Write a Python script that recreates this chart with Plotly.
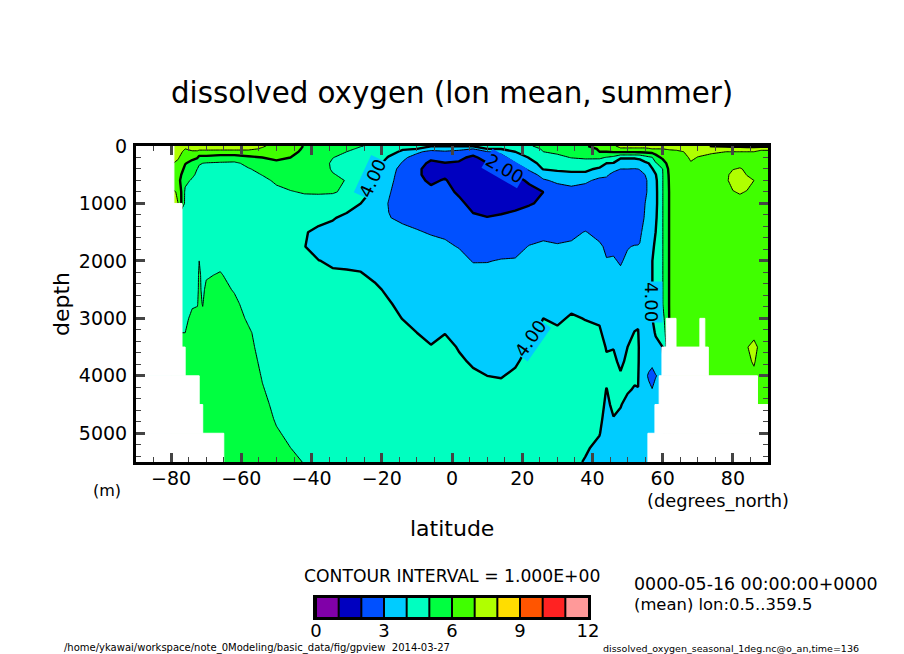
import numpy as np
import plotly.graph_objects as go

lats = [-90, -80, -78, -76, -74, -72.5, -72, -71, -70, -66, -62, -58, -54, -50, -46, -42, -38, -34, -30, -26,
        -22, -18, -14, -10, -6, -2, 2, 6, 10, 14, 18, 22, 26, 30, 34, 38, 42, 44, 46, 48,
        50, 52, 53, 53.5, 55, 56, 57, 58, 60, 62, 64, 66, 68, 70, 74, 78, 80, 82, 84, 86, 88, 90]
depths = [0, 50, 100, 200, 300, 400, 500, 600, 800, 1000,
          1250, 1500, 1750, 2000, 2250, 2500, 2750, 3000, 3250, 3500,
          3750, 4000, 4250, 4500, 4750, 5000, 5250, 5500]

# one profile per latitude
o2_profiles = [
    [7.5, 7.4, 7.3, 7.2, 7.1, 6.9, 6.7, 6.6, 7.2, 7.4, 5.0, 5.0, 5.0, 5.0, 5.0, 5.0, 5.0, 5.0, 5.0, 5.0, 5.0, 5.0, 5.0, 5.0, 5.0, 5.0, 5.0, 5.0],
    [7.5, 7.4, 7.3, 7.2, 7.1, 6.9, 6.7, 6.6, 7.2, 7.4, 5.0, 5.0, 5.0, 5.0, 5.0, 5.0, 5.0, 5.0, 5.0, 5.0, 5.0, 5.0, 5.0, 5.0, 5.0, 5.0, 5.0, 5.0],
    [7.5, 7.4, 7.3, 7.1, 6.8, 6.6, 6.4, 6.3, 6.9, 7.0, 4.8, 4.8, 4.8, 4.8, 4.8, 4.8, 4.8, 4.9, 5.0, 5.2, 5.3, 5.3, 5.3, 5.3, 5.3, 5.3, 5.3, 5.3],
    [7.2, 7.0, 6.8, 6.4, 6.05, 5.8, 5.5, 5.2, 4.85, 4.8, 4.7, 4.7, 4.7, 4.7, 4.7, 4.7, 4.8, 4.9, 5.0, 5.2, 5.3, 5.3, 5.3, 5.3, 5.3, 5.3, 5.3, 5.3],
    [7.3, 7.1, 6.95, 6.2, 5.75, 5.45, 5.15, 4.9, 4.75, 4.7, 4.6, 4.6, 4.6, 4.65, 4.7, 4.8, 4.95, 5.1, 5.2, 5.3, 5.4, 5.4, 5.4, 5.4, 5.4, 5.4, 5.4, 5.4],
    [7.3, 7.1, 6.95, 6.05, 5.5, 4.98, 4.85, 4.8, 4.7, 4.65, 4.6, 4.6, 4.65, 4.75, 4.85, 4.9, 4.98, 5.1, 5.2, 5.3, 5.4, 5.4, 5.4, 5.4, 5.4, 5.4, 5.4, 5.4],
    [7.3, 7.15, 6.8, 5.7, 5.05, 4.9, 4.8, 4.7, 4.65, 4.6, 4.6, 4.7, 4.85, 5.0, 5.1, 5.1, 5.1, 5.2, 5.3, 5.4, 5.5, 5.5, 5.5, 5.5, 5.5, 5.5, 5.5, 5.5],
    [7.3, 7.15, 6.8, 5.7, 5.0, 4.85, 4.75, 4.7, 4.65, 4.6, 4.6, 4.6, 4.7, 4.8, 4.85, 4.9, 4.98, 5.1, 5.2, 5.3, 5.4, 5.4, 5.4, 5.4, 5.4, 5.4, 5.4, 5.4],
    [7.3, 7.15, 6.8, 5.7, 4.95, 4.85, 4.75, 4.7, 4.6, 4.6, 4.6, 4.65, 4.7, 4.8, 4.95, 5.1, 5.2, 5.3, 5.4, 5.4, 5.4, 5.4, 5.4, 5.4, 5.4, 5.4, 5.4, 5.4],
    [7.3, 7.2, 6.7, 5.5, 4.9, 4.8, 4.7, 4.65, 4.6, 4.6, 4.6, 4.6, 4.7, 4.85, 5.05, 5.2, 5.3, 5.4, 5.5, 5.5, 5.5, 5.5, 5.5, 5.5, 5.5, 5.5, 5.5, 5.5],
    [7.3, 7.2, 6.7, 5.5, 4.85, 4.8, 4.7, 4.65, 4.6, 4.55, 4.55, 4.55, 4.6, 4.7, 4.8, 4.95, 5.15, 5.3, 5.4, 5.4, 5.4, 5.4, 5.4, 5.4, 5.4, 5.4, 5.4, 5.4],
    [7.3, 7.2, 6.7, 5.8, 5.2, 4.95, 4.8, 4.7, 4.6, 4.55, 4.5, 4.5, 4.5, 4.55, 4.6, 4.65, 4.75, 4.9, 5.1, 5.2, 5.3, 5.4, 5.4, 5.4, 5.4, 5.4, 5.4, 5.4],
    [7.1, 6.9, 6.6, 6.0, 5.5, 5.2, 5.02, 4.85, 4.65, 4.5, 4.45, 4.4, 4.4, 4.4, 4.45, 4.5, 4.55, 4.6, 4.7, 4.75, 4.85, 4.95, 5.05, 5.15, 5.2, 5.3, 5.3, 5.3],
    [6.7, 6.5, 6.3, 6.1, 5.9, 5.6, 5.3, 5.1, 4.85, 4.6, 4.4, 4.3, 4.3, 4.3, 4.35, 4.4, 4.45, 4.5, 4.55, 4.6, 4.65, 4.7, 4.75, 4.85, 4.95, 5.05, 5.15, 5.2],
    [6.4, 6.3, 6.2, 6.0, 5.8, 5.6, 5.4, 5.2, 4.97, 4.7, 4.4, 4.2, 4.2, 4.2, 4.25, 4.3, 4.35, 4.4, 4.45, 4.5, 4.55, 4.6, 4.65, 4.7, 4.8, 4.9, 5.0, 5.1],
    [5.95, 5.9, 5.85, 5.7, 5.6, 5.5, 5.35, 5.2, 5.04, 4.8, 4.4, 4.05, 4.02, 4.15, 4.2, 4.25, 4.3, 4.3, 4.35, 4.4, 4.4, 4.45, 4.5, 4.55, 4.6, 4.7, 4.8, 4.98],
    [5.7, 5.6, 5.5, 5.4, 5.35, 5.25, 5.2, 5.15, 5.05, 4.8, 4.2, 3.85, 3.7, 4.02, 4.15, 4.2, 4.25, 4.25, 4.3, 4.35, 4.4, 4.4, 4.45, 4.5, 4.5, 4.55, 4.6, 4.65],
    [5.6, 5.4, 5.25, 5.02, 4.9, 4.95, 5.03, 5.1, 5.05, 4.7, 4.05, 3.8, 3.75, 3.9, 4.1, 4.2, 4.25, 4.25, 4.3, 4.3, 4.35, 4.4, 4.4, 4.45, 4.5, 4.5, 4.55, 4.6],
    [5.4, 5.2, 5.0, 4.8, 4.8, 4.85, 4.9, 4.98, 4.9, 4.3, 3.85, 3.65, 3.65, 3.85, 4.1, 4.2, 4.2, 4.25, 4.25, 4.3, 4.3, 4.35, 4.35, 4.4, 4.4, 4.45, 4.5, 4.5],
    [5.05, 4.85, 4.7, 4.6, 4.6, 4.6, 4.6, 4.55, 4.4, 4.0, 3.75, 3.6, 3.6, 3.85, 4.05, 4.15, 4.2, 4.2, 4.25, 4.25, 4.3, 4.3, 4.35, 4.35, 4.4, 4.4, 4.45, 4.45],
    [4.8, 4.7, 4.6, 4.4, 4.3, 4.15, 4.0, 3.9, 3.8, 3.7, 3.6, 3.55, 3.6, 3.75, 3.9, 4.1, 4.15, 4.2, 4.2, 4.2, 4.25, 4.25, 4.3, 4.3, 4.35, 4.35, 4.4, 4.4],
    [4.5, 4.3, 4.2, 3.95, 3.7, 3.5, 3.4, 3.3, 3.1, 2.95, 3.03, 3.3, 3.5, 3.6, 3.7, 3.9, 4.05, 4.2, 4.2, 4.2, 4.25, 4.25, 4.3, 4.3, 4.3, 4.35, 4.35, 4.4],
    [4.2, 4.05, 3.9, 3.2, 2.9, 2.6, 2.5, 2.45, 2.4, 2.5, 2.85, 3.2, 3.4, 3.5, 3.6, 3.7, 3.85, 3.98, 4.2, 4.25, 4.25, 4.25, 4.3, 4.3, 4.3, 4.3, 4.35, 4.35],
    [4.2, 4.0, 3.2, 2.6, 2.2, 2.1, 2.1, 2.15, 2.3, 2.5, 2.8, 3.05, 3.3, 3.45, 3.55, 3.65, 3.75, 3.85, 4.0, 4.15, 4.2, 4.2, 4.25, 4.25, 4.3, 4.3, 4.3, 4.35],
    [4.1, 3.4, 2.7, 2.1, 1.9, 1.8, 1.8, 1.9, 2.15, 2.4, 2.7, 2.95, 3.2, 3.4, 3.5, 3.6, 3.7, 3.8, 3.9, 4.02, 4.2, 4.2, 4.25, 4.25, 4.25, 4.3, 4.3, 4.3],
    [4.1, 3.4, 2.9, 2.3, 1.97, 1.8, 1.9, 2.05, 2.2, 2.35, 2.65, 2.9, 3.1, 3.3, 3.45, 3.55, 3.65, 3.8, 3.98, 4.2, 4.25, 4.25, 4.25, 4.25, 4.3, 4.3, 4.3, 4.3],
    [4.1, 3.3, 2.7, 2.2, 1.9, 1.7, 1.6, 1.7, 1.9, 2.15, 2.45, 2.75, 2.97, 3.2, 3.35, 3.5, 3.6, 3.7, 3.8, 3.95, 4.1, 4.2, 4.2, 4.25, 4.25, 4.25, 4.3, 4.3],
    [4.1, 3.0, 2.4, 1.8, 1.6, 1.5, 1.4, 1.4, 1.5, 1.8, 2.1, 2.4, 2.7, 2.97, 3.2, 3.4, 3.5, 3.6, 3.7, 3.8, 3.92, 4.1, 4.15, 4.2, 4.2, 4.25, 4.25, 4.25],
    [4.3, 4.0, 2.95, 2.4, 1.97, 1.7, 1.5, 1.4, 1.4, 1.7, 2.02, 2.4, 2.7, 2.98, 3.15, 3.35, 3.45, 3.55, 3.65, 3.75, 3.85, 4.0, 4.15, 4.2, 4.2, 4.2, 4.25, 4.25],
    [4.4, 4.05, 3.2, 2.7, 2.25, 1.95, 1.75, 1.6, 1.5, 1.7, 2.1, 2.5, 2.8, 3.03, 3.2, 3.35, 3.45, 3.55, 3.6, 3.7, 3.8, 3.97, 4.15, 4.2, 4.2, 4.2, 4.25, 4.25],
    [4.6, 4.3, 4.0, 3.4, 2.95, 2.4, 2.0, 1.8, 1.6, 1.8, 2.2, 2.55, 2.8, 3.05, 3.2, 3.3, 3.4, 3.5, 3.6, 3.75, 3.92, 4.1, 4.15, 4.2, 4.2, 4.2, 4.2, 4.25],
    [4.9, 4.6, 4.4, 4.05, 3.7, 3.15, 2.6, 2.1, 1.8, 1.95, 2.3, 2.7, 3.03, 3.2, 3.3, 3.4, 3.5, 3.6, 3.8, 4.05, 4.2, 4.2, 4.2, 4.2, 4.2, 4.2, 4.2, 4.2],
    [5.3, 5.1, 5.0, 4.6, 4.25, 4.05, 3.3, 2.9, 2.0, 2.1, 2.5, 2.85, 3.1, 3.2, 3.3, 3.4, 3.7, 4.0, 4.2, 4.2, 4.2, 4.2, 4.2, 4.2, 4.2, 4.2, 4.2, 4.2],
    [5.5, 5.3, 5.15, 4.8, 4.4, 4.15, 3.7, 3.15, 2.6, 2.4, 2.5, 2.8, 3.05, 3.2, 3.3, 3.4, 3.55, 3.85, 4.15, 4.2, 4.2, 4.2, 4.2, 4.2, 4.2, 4.2, 4.2, 4.2],
    [5.6, 5.45, 5.3, 5.03, 4.6, 4.2, 3.8, 3.3, 2.7, 2.3, 2.45, 2.85, 3.1, 3.2, 3.3, 3.5, 3.8, 4.1, 4.2, 4.2, 4.2, 4.2, 4.2, 4.2, 4.2, 4.15, 4.1, 4.1],
    [5.95, 5.6, 5.4, 5.1, 4.7, 4.2, 3.8, 3.15, 2.6, 2.3, 2.6, 3.03, 3.2, 3.3, 3.4, 3.5, 3.7, 3.97, 4.2, 4.2, 4.2, 4.2, 4.2, 4.2, 4.15, 4.1, 4.05, 3.97],
    [6.2, 6.1, 6.0, 5.15, 4.5, 3.85, 3.25, 2.8, 2.4, 2.2, 2.4, 2.8, 3.1, 3.2, 3.3, 3.4, 3.6, 3.9, 4.1, 4.3, 4.3, 4.3, 4.25, 4.2, 4.1, 4.02, 3.9, 3.8],
    [6.3, 6.15, 6.0, 4.95, 4.0, 3.6, 3.1, 2.85, 2.4, 2.25, 2.45, 2.7, 2.9, 3.03, 3.15, 3.3, 3.4, 3.55, 3.75, 3.95, 4.1, 4.1, 3.98, 3.9, 3.85, 3.8, 3.75, 3.7],
    [6.9, 6.3, 6.1, 4.75, 3.95, 3.2, 2.8, 2.6, 2.4, 2.3, 2.45, 2.7, 2.9, 3.05, 3.2, 3.35, 3.5, 3.7, 3.85, 3.98, 4.1, 4.2, 4.2, 4.1, 3.98, 3.85, 3.8, 3.75],
    [7.2, 6.9, 6.15, 4.1, 3.5, 3.0, 2.7, 2.5, 2.4, 2.35, 2.4, 2.6, 2.8, 2.95, 3.1, 3.25, 3.4, 3.55, 3.65, 3.75, 3.9, 4.05, 4.2, 4.03, 3.9, 3.85, 3.8, 3.75],
    [7.2, 6.9, 6.15, 4.1, 3.5, 3.0, 2.7, 2.5, 2.4, 2.4, 2.5, 2.7, 2.97, 3.1, 3.2, 3.3, 3.4, 3.5, 3.75, 4.0, 4.1, 4.2, 4.05, 3.85, 3.8, 3.75, 3.7, 3.65],
    [7.2, 6.9, 6.15, 4.1, 3.5, 2.97, 2.7, 2.5, 2.4, 2.4, 2.45, 2.7, 3.03, 3.15, 3.25, 3.35, 3.5, 3.75, 4.03, 4.15, 4.2, 4.1, 3.95, 3.85, 3.8, 3.7, 3.65, 3.6],
    [7.2, 6.9, 6.15, 4.15, 3.6, 3.0, 2.7, 2.5, 2.4, 2.4, 2.5, 2.75, 3.03, 3.15, 3.25, 3.35, 3.5, 3.85, 4.05, 4.2, 4.2, 4.1, 3.97, 3.8, 3.7, 3.65, 3.6, 3.6],
    [7.2, 6.9, 6.15, 4.2, 3.6, 3.05, 2.75, 2.55, 2.5, 2.5, 2.6, 2.85, 3.05, 3.2, 3.3, 3.4, 3.6, 3.7, 3.7, 3.7, 3.6, 3.5, 3.5, 3.55, 3.55, 3.55, 3.55, 3.55],
    [7.2, 6.9, 6.2, 4.6, 3.8, 3.3, 3.0, 2.9, 2.9, 3.0, 3.1, 3.3, 3.4, 3.5, 3.55, 3.55, 3.55, 3.55, 3.5, 3.45, 3.35, 3.2, 3.3, 3.4, 3.4, 3.4, 3.4, 3.4],
    [7.2, 6.95, 6.25, 4.8, 4.0, 3.5, 3.25, 3.1, 3.1, 3.15, 3.25, 3.4, 3.5, 3.6, 3.6, 3.6, 3.6, 3.6, 3.5, 3.4, 3.3, 2.9, 3.2, 3.3, 3.35, 3.35, 3.35, 3.35],
    [7.2, 7.0, 6.3, 4.95, 4.3, 3.95, 3.7, 3.55, 3.5, 3.5, 3.55, 3.6, 3.8, 3.97, 3.97, 3.97, 3.97, 3.97, 3.7, 3.5, 3.3, 2.6, 3.05, 3.3, 3.4, 3.4, 3.4, 3.4],
    [7.2, 7.0, 6.4, 5.6, 4.9, 4.3, 3.95, 3.8, 3.75, 3.75, 3.85, 4.0, 4.2, 4.4, 4.4, 4.4, 4.4, 4.4, 4.1, 3.7, 3.5, 2.95, 3.3, 3.4, 3.4, 3.4, 3.4, 3.4],
    [7.2, 7.0, 6.7, 6.2, 5.5, 5.0, 4.97, 4.97, 4.97, 4.97, 4.97, 4.97, 4.97, 4.97, 4.97, 4.97, 4.97, 4.7, 4.4, 4.0, 3.6, 3.3, 3.4, 3.4, 3.4, 3.4, 3.4, 3.4],
    [7.2, 7.05, 6.9, 6.7, 6.5, 6.3, 6.2, 6.15, 6.1, 6.1, 6.1, 6.1, 6.1, 6.1, 6.1, 6.1, 6.1, 6.1, 6.1, 6.1, 6.1, 6.1, 6.1, 6.1, 6.1, 6.1, 6.1, 6.1],
    [7.3, 7.1, 6.9, 6.7, 6.6, 6.55, 6.5, 6.5, 6.5, 6.5, 6.5, 6.5, 6.5, 6.5, 6.5, 6.5, 6.5, 6.5, 6.5, 6.5, 6.5, 6.5, 6.5, 6.5, 6.5, 6.5, 6.5, 6.5],
    [7.6, 7.3, 7.0, 6.8, 6.7, 6.65, 6.6, 6.55, 6.5, 6.5, 6.5, 6.5, 6.5, 6.5, 6.5, 6.5, 6.5, 6.5, 6.5, 6.5, 6.5, 6.5, 6.5, 6.5, 6.5, 6.5, 6.5, 6.5],
    [7.6, 7.4, 7.3, 7.1, 6.95, 6.8, 6.7, 6.6, 6.5, 6.5, 6.5, 6.5, 6.5, 6.5, 6.5, 6.5, 6.5, 6.5, 6.5, 6.5, 6.5, 6.5, 6.5, 6.5, 6.5, 6.5, 6.5, 6.5],
    [7.7, 7.3, 7.15, 6.98, 6.8, 6.7, 6.65, 6.6, 6.5, 6.5, 6.5, 6.5, 6.5, 6.5, 6.5, 6.5, 6.5, 6.5, 6.5, 6.5, 6.5, 6.5, 6.5, 6.5, 6.5, 6.5, 6.5, 6.5],
    [8.05, 7.4, 7.05, 6.9, 6.8, 6.75, 6.7, 6.65, 6.6, 6.55, 6.5, 6.5, 6.5, 6.5, 6.5, 6.5, 6.5, 6.5, 6.5, 6.5, 6.5, 6.5, 6.5, 6.5, 6.5, 6.5, 6.5, 6.5],
    [8.2, 7.3, 7.0, 6.9, 6.85, 6.85, 6.85, 6.9, 6.8, 6.7, 6.6, 6.5, 6.5, 6.5, 6.5, 6.5, 6.5, 6.5, 6.5, 6.5, 6.5, 6.5, 6.5, 6.5, 6.5, 6.5, 6.5, 6.5],
    [8.3, 7.3, 7.0, 6.9, 6.8, 6.97, 7.2, 7.2, 6.97, 6.8, 6.6, 6.5, 6.5, 6.5, 6.5, 6.5, 6.5, 6.5, 6.5, 6.5, 6.5, 6.5, 6.5, 6.5, 6.5, 6.5, 6.5, 6.5],
    [8.3, 7.2, 7.0, 6.9, 6.8, 7.05, 7.3, 7.3, 7.05, 6.8, 6.6, 6.5, 6.5, 6.5, 6.5, 6.5, 6.5, 6.5, 6.5, 6.5, 6.5, 6.5, 6.5, 6.5, 6.5, 6.5, 6.5, 6.5],
    [8.4, 7.2, 7.0, 6.9, 6.8, 6.9, 6.97, 7.2, 6.97, 6.8, 6.6, 6.5, 6.5, 6.5, 6.5, 6.5, 6.5, 6.5, 6.6, 6.95, 6.8, 6.6, 6.5, 6.5, 6.5, 6.5, 6.5, 6.5],
    [8.4, 7.2, 7.0, 6.9, 6.8, 6.85, 6.9, 7.0, 6.85, 6.7, 6.6, 6.5, 6.5, 6.5, 6.5, 6.5, 6.5, 6.5, 6.7, 7.3, 7.1, 6.8, 6.6, 6.5, 6.5, 6.5, 6.5, 6.5],
    [8.4, 7.1, 6.9, 6.8, 6.7, 6.7, 6.7, 6.7, 6.65, 6.6, 6.5, 6.5, 6.5, 6.5, 6.5, 6.5, 6.5, 6.5, 6.5, 6.7, 6.5, 6.5, 6.5, 6.5, 6.5, 6.5, 6.5, 6.5],
    [8.4, 7.1, 6.9, 6.8, 6.7, 6.7, 6.7, 6.7, 6.65, 6.6, 6.5, 6.5, 6.5, 6.5, 6.5, 6.5, 6.5, 6.5, 6.5, 6.7, 6.5, 6.5, 6.5, 6.5, 6.5, 6.5, 6.5, 6.5],
]

# sea floor / land, drawn white over the field
land_west = [-90, -90, -90, -90, -90, -90, 61, 70.6, 59.8, 59, 57.8, 55.8]
land_east = [-79.2, -76.9, -76, -72, -71, -65, 63.8, 72, 73, 87, 90, 90]
land_top = [0, 1000, 3500, 4000, 4500, 5000, 3000, 3000, 3500, 4000, 4500, 5000]
land_bottom = [1000, 3500, 4000, 4500, 5000, 5500, 3500, 3500, 4000, 4500, 5000, 5500]

band_colors = ["#8000a8", "#0000c0", "#0050ff", "#00ccff", "#00ffc0", "#00ff40",
               "#40ff00", "#b0ff00", "#ffdd00", "#ff5500", "#ff2222", "#ff9999"]
key_ticks = [0, 3, 6, 9, 12]

FONT = "DejaVu Sans"
W, H = 904, 654


def px(x):
    return x / W


def py(y):
    return 1 - y / H


colorscale = []
for i, c in enumerate(band_colors):
    colorscale.append([i / 12, c])
    colorscale.append([(i + 1) / 12, c])

o2 = np.array(o2_profiles).T

fig = go.Figure()

fig.add_trace(go.Contour(
    x=lats, y=depths, z=o2, zmin=0, zmax=12, colorscale=colorscale, showscale=False,
    contours=dict(start=0, end=12, size=1, coloring="fill"),
    line=dict(color="black", width=1, smoothing=0), hoverinfo="skip",
))
# every second level is drawn heavier
fig.add_trace(go.Contour(
    x=lats, y=depths, z=o2, showscale=False,
    contours=dict(start=2, end=8, size=2, coloring="none"),
    line=dict(color="black", width=2.4, smoothing=0), hoverinfo="skip",
))

fig.add_trace(go.Bar(
    x=[(a + b) / 2 for a, b in zip(land_west, land_east)],
    width=[b - a for a, b in zip(land_west, land_east)],
    base=land_top,
    y=[b - t for t, b in zip(land_top, land_bottom)],
    marker=dict(color="white", line=dict(width=1, color="white")),
    hoverinfo="skip", showlegend=False,
))

# colour key
fig.add_trace(go.Contour(
    x=[0, 12], y=[0, 1], z=[[0, 12], [0, 12]], zmin=0, zmax=12,
    colorscale=colorscale, showscale=False,
    contours=dict(start=0, end=12, size=1, coloring="fill"),
    line=dict(color="black", width=2, smoothing=0), hoverinfo="skip",
    xaxis="x2", yaxis="y2",
))

fig.update_layout(
    width=W, height=H, autosize=False, showlegend=False,
    paper_bgcolor="white", plot_bgcolor="white",
    margin=dict(l=0, r=0, t=0, b=0), barmode="overlay",
    font=dict(family=FONT, color="black", size=19),
    xaxis=dict(
        domain=[px(136), px(768)], range=[-90, 90], tickvals=[-80, -60, -40, -20, 0, 20, 40, 60, 80],
        ticks="inside", ticklen=9, tickwidth=3, mirror="allticks", showline=True, linewidth=3,
        linecolor="black", showgrid=False, zeroline=False, tickfont=dict(size=19), automargin=False,
        ticklabelstandoff=-3,
        minor=dict(ticks="inside", dtick=5, ticklen=5, tickwidth=1, showgrid=False),
    ),
    yaxis=dict(
        domain=[py(462), py(146)], range=[5500, 0], tickvals=[0, 1000, 2000, 3000, 4000, 5000],
        ticks="inside", ticklen=9, tickwidth=3, mirror="allticks", showline=True, linewidth=3,
        linecolor="black", showgrid=False, zeroline=False, tickfont=dict(size=19), automargin=False,
        ticklabelstandoff=2,
        minor=dict(ticks="inside", dtick=200, ticklen=5, tickwidth=1, showgrid=False),
    ),
    xaxis2=dict(
        domain=[px(316), px(588)], range=[0, 12], anchor="y2", tickvals=key_ticks, ticks="",
        showline=True, linewidth=3, linecolor="black", mirror=True, showgrid=False,
        zeroline=False, tickfont=dict(size=18), automargin=False, ticklabelstandoff=-5,
    ),
    yaxis2=dict(
        domain=[py(617), py(598)], range=[0, 1], anchor="x2", showticklabels=False, ticks="",
        showline=True, linewidth=3, linecolor="black", mirror=True, showgrid=False, zeroline=False,
        automargin=False,
    ),
)

texts = [
    ("dissolved oxygen (lon mean, summer)", 452, 93, 29.3, "center", 0),
    ("latitude", 452, 528, 22, "center", 0),
    ("depth", 62, 304, 22, "center", -90),
    ("(m)", 107, 490, 16, "center", 0),
    ("(degrees_north)", 718, 501, 17.8, "center", 0),
    ("CONTOUR INTERVAL = 1.000E+00", 452, 576, 17.2, "center", 0),
    ("0000-05-16 00:00:00+0000", 632, 584, 17.4, "left", 0),
    ("(mean) lon:0.5..359.5", 632, 604, 16.4, "left", 0),
    ("/home/ykawai/workspace/note_0Modeling/basic_data/fig/gpview  2014-03-27", 62, 648, 10, "left", 0),
    ("dissolved_oxygen_seasonal_1deg.nc@o_an,time=136", 601, 648, 9.5, "left", 0),
]
for text, x, y, size, anchor, angle in texts:
    fig.add_annotation(text=text.replace("  ", "&nbsp;&nbsp;"), x=px(x), y=py(y), xref="paper", yref="paper",
                       xanchor=anchor, yanchor="middle", showarrow=False,
                       textangle=angle, font=dict(size=size))

# contour labels, placed by hand along the lines as in the source picture
contour_labels = [
    ("4.00", 372, 178, -65, "#00ccff"),
    ("2.00", 505, 168, 30, "#0050ff"),
    ("4.00", 530, 338, -55, "#00ccff"),
    ("4.00", 652, 302, 90, "#00ccff"),
]
for text, x, y, angle, bg in contour_labels:
    fig.add_annotation(text=text, x=px(x), y=py(y), xref="paper", yref="paper",
                       xanchor="center", yanchor="middle",
                       showarrow=False, textangle=angle, bgcolor=bg, borderpad=0,
                       font=dict(size=18))

# the page margin would push the fixed-size figure out of the window
fig.write_html("out.html", config={"displayModeBar": False},
               post_script="document.body.style.margin='0';document.body.style.overflow='hidden';")
